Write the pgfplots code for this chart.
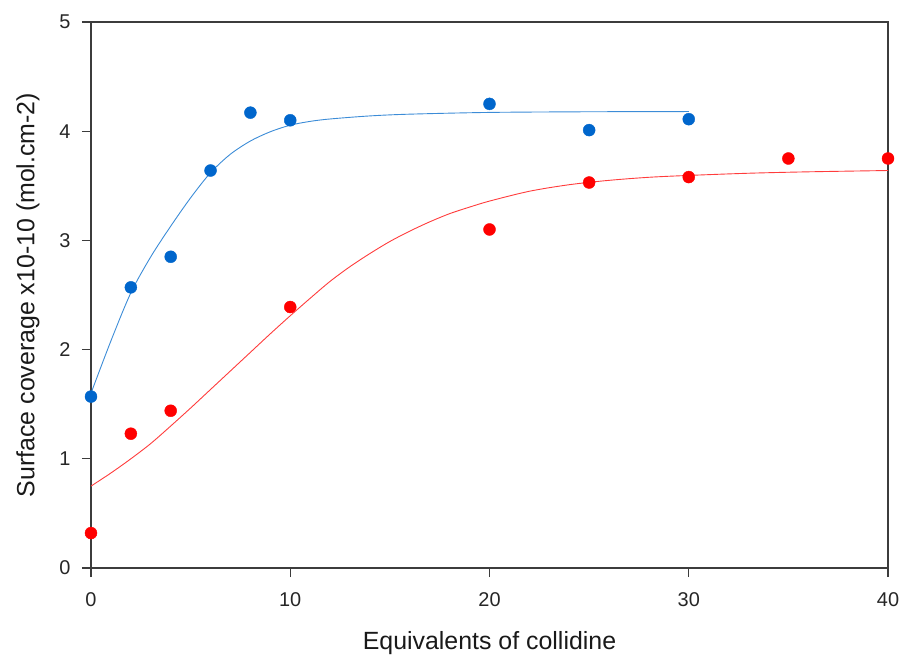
\documentclass[border=0pt]{standalone}
\usepackage{pgfplots}
\pgfplotsset{compat=1.18}
\usepackage{fontspec}
\setmainfont{Liberation Sans}
\newcommand\hy{\symbol{"2010}}
\definecolor{bluedot}{RGB}{0,102,204}
\definecolor{blueline}{RGB}{60,140,215}
\definecolor{reddot}{RGB}{255,0,0}
\definecolor{redline}{RGB}{255,60,60}
\definecolor{axgray}{RGB}{60,60,60}
\begin{document}
\begin{tikzpicture}
\begin{axis}[
  at={(0,0)}, anchor=south west,
  scale only axis,
  width=797bp, height=546bp,
  xmin=0, xmax=40, ymin=0, ymax=5,
  xtick={0,10,20,30,40}, ytick={0,1,2,3,4,5},
  tick pos=left, tick align=outside,
  major tick length=9bp,
  axis line style={axgray, line width=1.2bp},
  every tick/.style={axgray, line width=1.2bp},
  /pgf/number format/assume math mode=true,
  ticklabel style={font=\fontsize{20}{22}\selectfont, text=black!85},
  xticklabel style={yshift=-12bp},
  yticklabel style={xshift=-8bp},
  label style={font=\fontsize{25}{28}\selectfont, text=black!90},
  xlabel={Equivalents of collidine},
  ylabel={Surface coverage x10\hy10 (mol.cm\hy2)},
  xlabel style={at={(axis description cs:0.5,0)}, anchor=base, yshift=-81bp},
  ylabel style={at={(axis description cs:0,0.5)}, anchor=center, yshift=63bp},
  clip=false,
]
% blue fit
\addplot[blueline, line width=0.9bp, smooth, tension=0.5] coordinates {
(0,1.60) (1,2.08) (2,2.52) (3,2.85) (4,3.13) (5,3.39) (6,3.62) (7,3.79)
(8,3.91) (9,3.995) (10,4.055) (11,4.09) (12,4.112) (14,4.14) (16,4.156)
(20,4.172) (25,4.178) (30,4.18)};
% red fit
\addplot[redline, line width=0.9bp, smooth, tension=0.5] coordinates {
(0,0.75) (1,0.87) (2,1.00) (3,1.14) (4,1.30) (5,1.465) (6,1.635) (7,1.805)
(8,1.975) (9,2.145) (10,2.31) (11,2.47) (12,2.625) (13,2.76) (14,2.88)
(15,2.99) (16,3.085) (17,3.17) (18,3.245) (19,3.305) (20,3.36) (22,3.45)
(24,3.51) (26,3.55) (28,3.578) (30,3.595) (33,3.615) (36,3.628) (40,3.64)};
% blue data
\addplot[only marks, mark=*, mark size=6bp, bluedot, mark options={draw=bluedot, fill=bluedot}] coordinates {
(0,1.57) (2,2.57) (4,2.85) (6,3.64) (8,4.17) (10,4.10) (20,4.25) (25,4.01) (30,4.11)};
% red data
\addplot[only marks, mark=*, mark size=6bp, reddot, mark options={draw=reddot, fill=reddot}] coordinates {
(0,0.32) (2,1.23) (4,1.44) (10,2.39) (20,3.10) (25,3.53) (30,3.58) (35,3.75) (40,3.75)};
\end{axis}
\pgfresetboundingbox
\path[use as bounding box] (-91bp,-88bp) rectangle (813bp,568bp);
\end{tikzpicture}
\end{document}
